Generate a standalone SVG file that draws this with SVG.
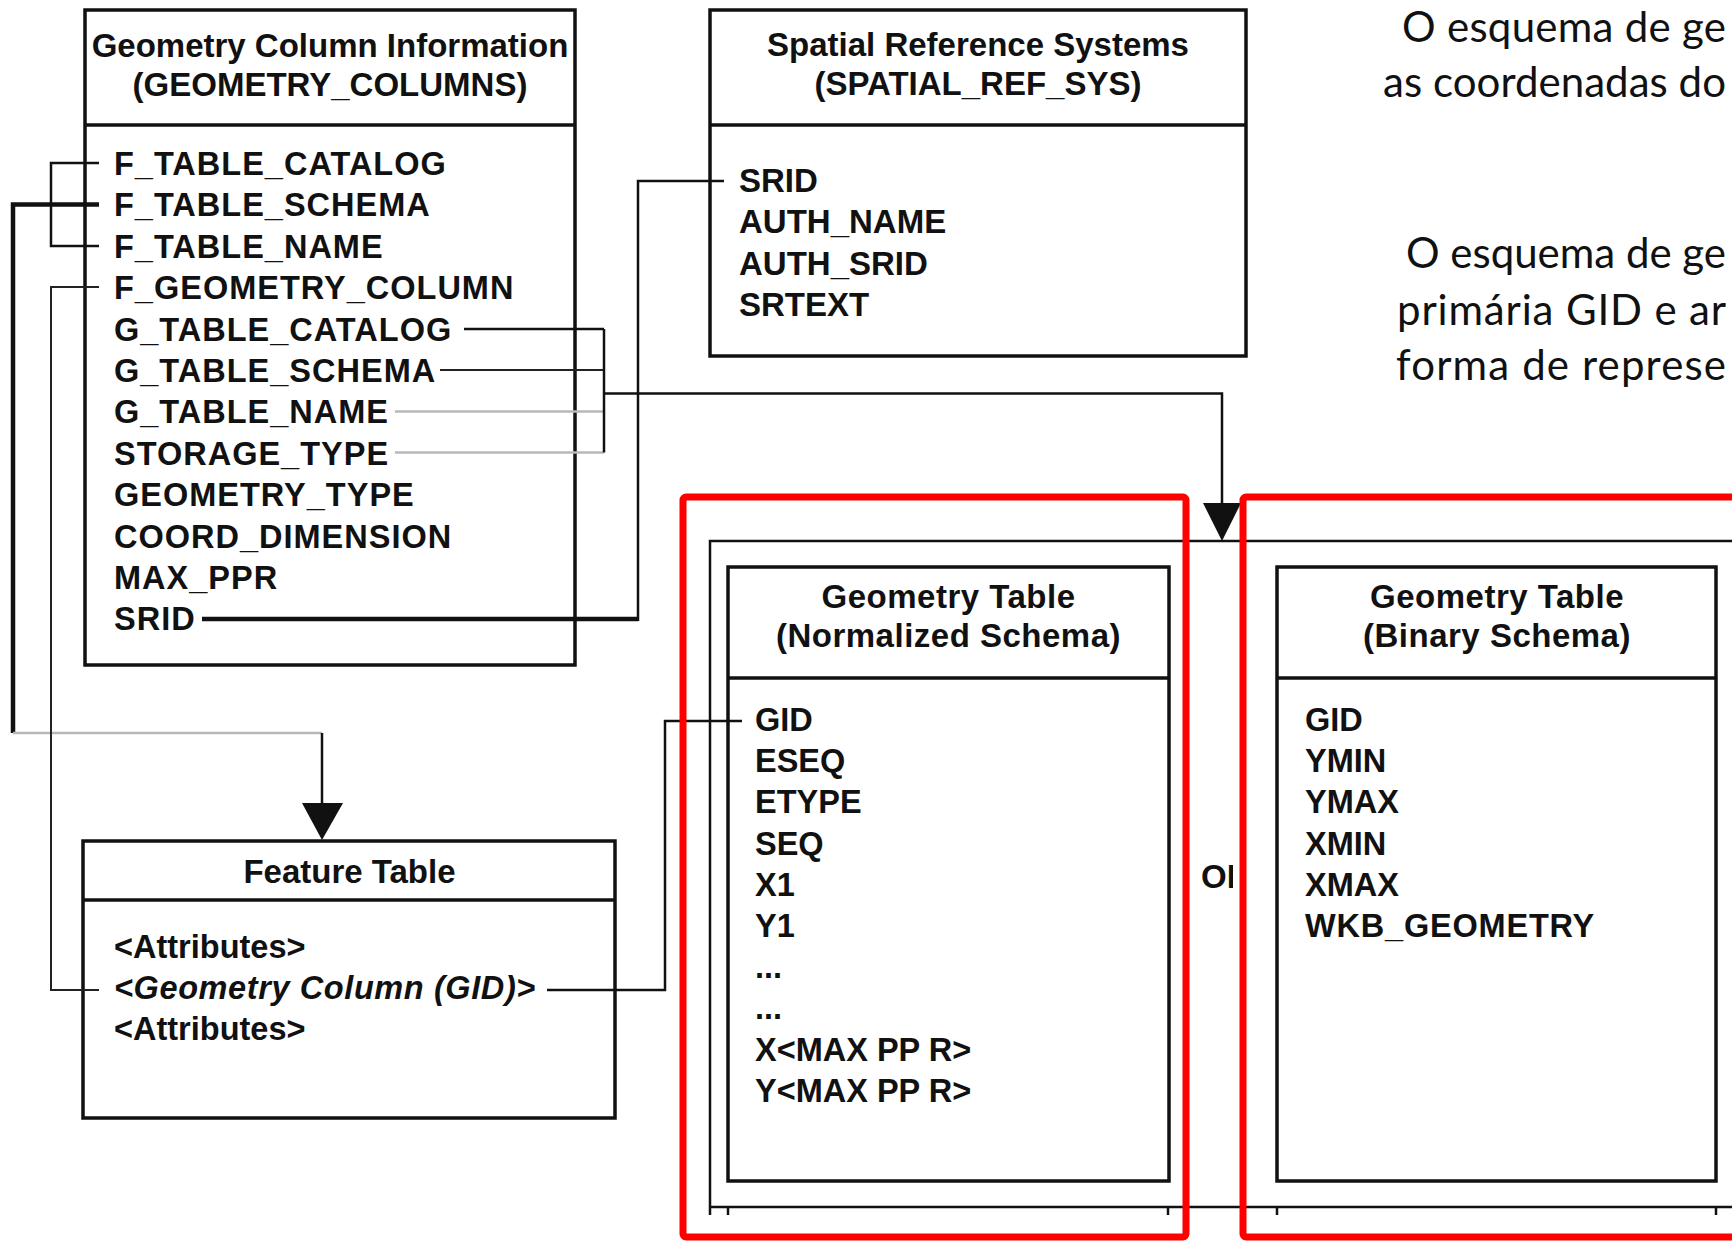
<svg xmlns="http://www.w3.org/2000/svg" width="1732" height="1241" viewBox="0 0 1732 1241">
  <style>
    .box{fill:none;stroke:#111;stroke-width:3.5}
    .sep{stroke:#111;stroke-width:3.5}
    .t{font-family:"Liberation Sans",Arial,Helvetica,sans-serif;font-weight:bold;font-size:33px;fill:#111}
    .ttl{text-anchor:middle}
    .fld{font-size:32.5px}
    .wide{letter-spacing:1px}
    .it{font-style:italic;letter-spacing:0.6px}
    .c{fill:none;stroke:#111;stroke-width:2.5}
    .thick{stroke-width:4.5}
    .thin{stroke-width:2;stroke:#222}
    .gray{fill:none;stroke:#b8b8b8;stroke-width:2.5}
    .head{fill:#111}
    .frame{fill:none;stroke:#111;stroke-width:2.5}
    .red{fill:none;stroke:#ff0000;stroke-width:7}
    .note{font-family:Lato,"Open Sans",sans-serif;font-size:42px;fill:#111}
  </style>
  <defs>
    <clipPath id="orClip"><rect x="1190" y="850" width="43" height="50"/></clipPath>
  </defs>

  <rect width="1732" height="1241" fill="#fff"/>

  <!-- GEOMETRY_COLUMNS table -->
  <g id="geometry-columns">
    <rect class="box" x="85" y="10" width="490" height="655"/>
    <line class="sep" x1="85" y1="125" x2="575" y2="125"/>
    <text class="t ttl" x="330" y="57" font-size="33.5">Geometry Column Information</text>
    <text class="t ttl" x="330" y="96">(GEOMETRY_COLUMNS)</text>
    <text class="t fld wide" x="114" y="175">F_TABLE_CATALOG</text>
    <text class="t fld wide" x="114" y="216.4">F_TABLE_SCHEMA</text>
    <text class="t fld wide" x="114" y="257.8">F_TABLE_NAME</text>
    <text class="t fld wide" x="114" y="299.2">F_GEOMETRY_COLUMN</text>
    <text class="t fld wide" x="114" y="340.6">G_TABLE_CATALOG</text>
    <text class="t fld wide" x="114" y="382">G_TABLE_SCHEMA</text>
    <text class="t fld wide" x="114" y="423.4">G_TABLE_NAME</text>
    <text class="t fld wide" x="114" y="464.8">STORAGE_TYPE</text>
    <text class="t fld wide" x="114" y="506.2">GEOMETRY_TYPE</text>
    <text class="t fld wide" x="114" y="547.6">COORD_DIMENSION</text>
    <text class="t fld wide" x="114" y="589">MAX_PPR</text>
    <text class="t fld wide" x="114" y="630.4">SRID</text>
  </g>

  <!-- SPATIAL_REF_SYS table -->
  <g id="spatial-ref-sys">
    <rect class="box" x="710" y="10" width="536" height="346"/>
    <line class="sep" x1="710" y1="125" x2="1246" y2="125"/>
    <text class="t ttl" x="978" y="56">Spatial Reference Systems</text>
    <text class="t ttl" x="978" y="95">(SPATIAL_REF_SYS)</text>
    <text class="t" x="739" y="192">SRID</text>
    <text class="t" x="739" y="233">AUTH_NAME</text>
    <text class="t" x="739" y="274.5">AUTH_SRID</text>
    <text class="t" x="739" y="316">SRTEXT</text>
  </g>

  <!-- Feature table -->
  <g id="feature-table">
    <rect class="box" x="83" y="841" width="532" height="277"/>
    <line class="sep" x1="83" y1="900" x2="615" y2="900"/>
    <text class="t ttl" x="349.5" y="883">Feature Table</text>
    <text class="t fld" x="114" y="958">&lt;Attributes&gt;</text>
    <text class="t fld it" x="114" y="999">&lt;Geometry Column (GID)&gt;</text>
    <text class="t fld" x="114" y="1040">&lt;Attributes&gt;</text>
  </g>

  <!-- frame holding the two geometry table variants -->
  <g id="geometry-variants">
    <path class="frame" d="M710,1215 V541 H1732 M710,1207 H1732 M728,1207 V1215 M1168,1207 V1215 M1277,1207 V1215 M1716,1207 V1215"/>
  </g>

  <!-- Geometry table, normalized schema -->
  <g id="geometry-normalized">
    <rect class="box" x="728" y="567" width="441" height="614"/>
    <line class="sep" x1="728" y1="678" x2="1169" y2="678"/>
    <text class="t ttl" x="948.5" y="608" letter-spacing="0.5">Geometry Table</text>
    <text class="t ttl" x="948.5" y="647" letter-spacing="0.5">(Normalized Schema)</text>
    <text class="t fld" x="755" y="731">GID</text>
    <text class="t fld" x="755" y="772.2">ESEQ</text>
    <text class="t fld" x="755" y="813.4">ETYPE</text>
    <text class="t fld" x="755" y="854.6">SEQ</text>
    <text class="t fld" x="755" y="895.8">X1</text>
    <text class="t fld" x="755" y="937">Y1</text>
    <text class="t fld" x="755" y="978.2">...</text>
    <text class="t fld" x="755" y="1019.4">...</text>
    <text class="t fld" x="755" y="1060.6">X&lt;MAX PP R&gt;</text>
    <text class="t fld" x="755" y="1101.8">Y&lt;MAX PP R&gt;</text>
  </g>

  <!-- Geometry table, binary schema -->
  <g id="geometry-binary">
    <rect class="box" x="1277" y="567" width="439" height="614"/>
    <line class="sep" x1="1277" y1="678" x2="1716" y2="678"/>
    <text class="t ttl" x="1497" y="608" letter-spacing="0.5">Geometry Table</text>
    <text class="t ttl" x="1497" y="647" letter-spacing="0.5">(Binary Schema)</text>
    <text class="t fld" x="1305" y="731">GID</text>
    <text class="t fld" x="1305" y="772.2">YMIN</text>
    <text class="t fld" x="1305" y="813.4">YMAX</text>
    <text class="t fld" x="1305" y="854.6">XMIN</text>
    <text class="t fld" x="1305" y="895.8">XMAX</text>
    <text class="t fld" x="1305" y="937" letter-spacing="0.8">WKB_GEOMETRY</text>
  </g>

  <!-- "OR" between the two variants -->
  <g id="or-label">
    <text class="t" x="1201" y="888" clip-path="url(#orClip)">OR</text>
  </g>

  <!-- connectors -->
  <g id="connectors">
    <!-- F_TABLE_CATALOG / F_TABLE_NAME bracket -->
    <path class="c" d="M99,163 H51 V246 H99"/>
    <!-- F_TABLE_SCHEMA down to the feature table -->
    <path class="c thick" d="M99,204.5 H13 V733"/>
    <path class="gray" d="M13,733 H322"/>
    <path class="c" d="M322,733 V806"/>
    <polygon class="head" points="302,803 343,803 322,840"/>
    <!-- F_GEOMETRY_COLUMN to the geometry column -->
    <path class="c thin" d="M99,287 H51 V990 H99"/>
    <!-- G_TABLE_* group to the geometry tables -->
    <path class="c" d="M464,329 H604"/>
    <path class="c thin" d="M440,370 H604"/>
    <path class="gray" d="M395,411.5 H604"/>
    <path class="gray" d="M395,452.5 H604"/>
    <path class="c" d="M604,329 V452.5"/>
    <path class="c" d="M604,393.5 H1222 V506"/>
    <polygon class="head" points="1203,503 1241,503 1222,541"/>
    <!-- SRID to SRID -->
    <path class="c thick" d="M202,619 H638"/>
    <path class="c" d="M638,621 V181 H724"/>
    <!-- geometry column (GID) to GID -->
    <path class="c" d="M547,990 H665 V721 H742"/>
  </g>

  <!-- red highlight frames -->
  <g id="highlights">
    <rect class="red" x="683" y="497" width="503" height="740" rx="3"/>
    <rect class="red" x="1243" y="497" width="600" height="740" rx="3"/>
  </g>

  <!-- side notes -->
  <g id="notes">
    <text class="note" x="1402" y="42" textLength="324" lengthAdjust="spacing">O esquema de ge</text>
    <text class="note" x="1383" y="97" textLength="343" lengthAdjust="spacing">as coordenadas do</text>
    <text class="note" x="1406" y="268" textLength="320" lengthAdjust="spacing">O esquema de ge</text>
    <text class="note" x="1397" y="325" textLength="329" lengthAdjust="spacing">primária GID e ar</text>
    <text class="note" x="1396" y="380" textLength="330" lengthAdjust="spacing">forma de represe</text>
  </g>
</svg>
